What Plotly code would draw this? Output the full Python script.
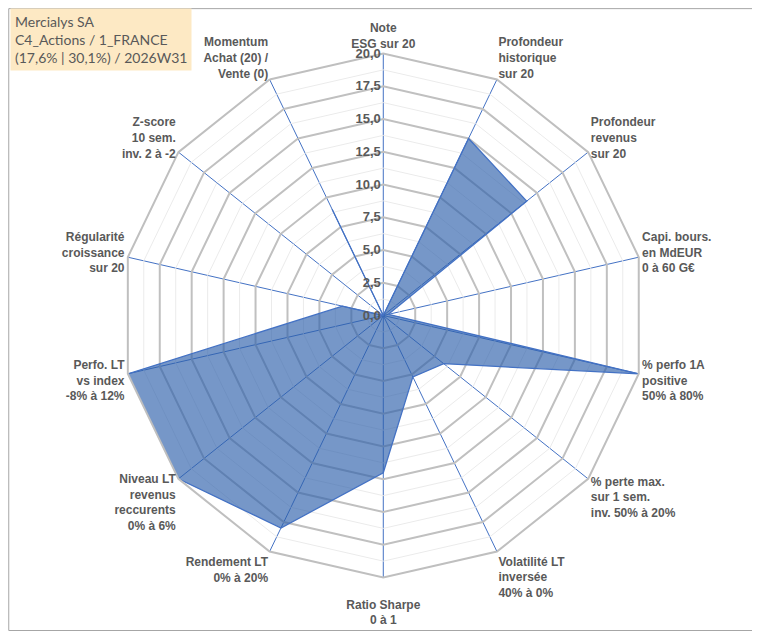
import plotly.graph_objects as go

# axes of the radar, clockwise from the top
CATEGORIES = [
    "Note<br>ESG sur 20",
    "Profondeur<br>historique<br>sur 20",
    "Profondeur<br>revenus<br>sur 20",
    "Capi. bours.<br>en MdEUR<br>0 à 60 G€",
    "% perfo 1A<br>positive<br>50% à 80%",
    "% perte max.<br>sur 1 sem.<br>inv. 50% à 20%",
    "Volatilité LT<br>inversée<br>40% à 0%",
    " <br>Ratio Sharpe<br>0 à 1",
    "Rendement LT<br>0% à 20%",
    "Niveau LT<br>revenus<br>reccurents<br>0% à 6%",
    "Perfo. LT<br>vs index<br>-8% à 12%",
    "Régularité<br>croissance<br>sur 20",
    "Z-score<br>10 sem.<br>inv. 2 à -2",
    "Momentum<br>Achat (20) /<br>Vente (0)",
]
SCORES = [0, 15, 14, 0.4, 20, 5.9, 5.2, 12, 18, 20, 20, 3.2, 0, 9]
MAJOR_TICKS = [0, 2.5, 5, 7.5, 10, 12.5, 15, 17.5, 20]
MINOR_TICKS = [1.25, 3.75, 6.25, 8.75, 11.25, 13.75, 16.25, 18.75]

TITLE_LINES = [
    "Mercialys SA",
    "C4_Actions / 1_FRANCE",
    "(17,6% | 30,1%) / 2026W31",
]

GREY_TEXT = "#595959"
SPOKE_BLUE = "#4472C4"

# the page body keeps its default 8px margin, so the figure is a bit smaller
WIDTH = 752
HEIGHT = 625

fig = go.Figure()

# faint minor grid rings
for r in MINOR_TICKS:
    fig.add_trace(
        go.Scatterpolar(
            r=[r] * (len(CATEGORIES) + 1),
            theta=CATEGORIES + [CATEGORIES[0]],
            mode="lines",
            line=dict(color="#EBEBEB", width=1),
            hoverinfo="skip",
            showlegend=False,
        )
    )

fig.add_trace(
    go.Scatterpolar(
        r=SCORES + [SCORES[0]],
        theta=CATEGORIES + [CATEGORIES[0]],
        mode="lines",
        fill="toself",
        fillcolor="rgba(45,95,170,0.65)",
        line=dict(color=SPOKE_BLUE, width=1.3),
        showlegend=False,
    )
)

fig.update_layout(
    width=WIDTH,
    height=HEIGHT,
    margin=dict(l=0, r=0, t=0, b=0),
    paper_bgcolor="#ffffff",
    separators=", ",
    font=dict(family="Liberation Sans", color=GREY_TEXT, size=12),
    polar=dict(
        domain=dict(x=[0.1506, 0.8475], y=[0.0880, 0.9280]),
        bgcolor="#ffffff",
        gridshape="linear",
        angularaxis=dict(
            rotation=90,
            direction="clockwise",
            gridcolor=SPOKE_BLUE,
            gridwidth=1,
            showline=True,
            linecolor="#BFBFBF",
            linewidth=2,
            ticks="",
            tickfont=dict(size=12, color=GREY_TEXT, weight="bold"),
        ),
        radialaxis=dict(
            range=[0, 20],
            tickvals=MAJOR_TICKS,
            tickformat=".1f",
            angle=90,
            tickangle=90,
            side="counterclockwise",
            showline=False,
            ticks="",
            gridcolor="#C0C0C0",
            gridwidth=2,
            tickfont=dict(size=13, color=GREY_TEXT, weight="bold"),
        ),
    ),
)

fig.add_annotation(
    x=0.0027,
    y=1.0,
    xref="paper",
    yref="paper",
    xanchor="left",
    yanchor="top",
    align="left",
    showarrow=False,
    text="<br>".join(TITLE_LINES),
    bgcolor="#FDE9C4",
    borderpad=4,
    font=dict(family="Lato", size=14, color=GREY_TEXT),
)

fig.add_shape(
    type="rect",
    xref="paper",
    yref="paper",
    x0=0.001,
    x1=0.996,
    y0=0.004,
    y1=0.999,
    line=dict(color="#A6A6A6", width=1),
)

fig.write_html("out.html")
